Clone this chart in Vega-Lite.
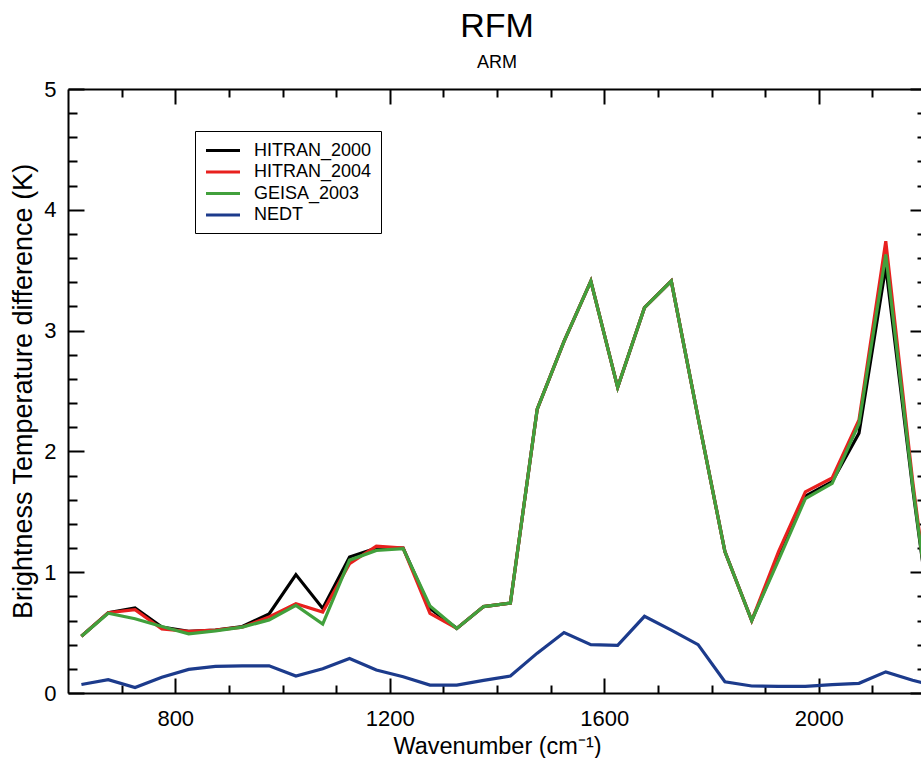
{
"$schema": "https://vega.github.io/schema/vega-lite/v6.json",
"width": 858, "height": 604,
"autosize": {"type": "none"},
"padding": {"left": 68, "top": 89, "right": 0, "bottom": 65},
"background": "white",
"config": {
  "font": "Liberation Sans",
  "view": {"stroke": null},
  "axis": {"grid": false, "domainColor": "black", "domainWidth": 2, "tickColor": "black", "tickWidth": 2, "labelColor": "black", "labelFont": "Liberation Sans", "titleFont": "Liberation Sans", "titleColor": "black", "titleFontWeight": "normal", "labelFontSize": 22, "titleFontSize": 22},
  "line": {"strokeWidth": 3.2}
},
"title": {"text": "RFM", "subtitle": "ARM", "fontSize": 34, "subtitleFontSize": 18, "font": "Liberation Sans", "subtitleFont": "Liberation Sans", "fontWeight": "normal", "color": "black", "subtitleColor": "black", "anchor": "middle", "offset": 6, "subtitlePadding": 10},
"data": {"values": [
{"wn":625,"HITRAN_2000":0.47,"HITRAN_2004":0.47,"GEISA_2003":0.47,"NEDT":0.07},
{"wn":675,"HITRAN_2000":0.665,"HITRAN_2004":0.665,"GEISA_2003":0.66,"NEDT":0.11},
{"wn":725,"HITRAN_2000":0.705,"HITRAN_2004":0.69,"GEISA_2003":0.615,"NEDT":0.045},
{"wn":775,"HITRAN_2000":0.545,"HITRAN_2004":0.53,"GEISA_2003":0.55,"NEDT":0.13},
{"wn":825,"HITRAN_2000":0.51,"HITRAN_2004":0.51,"GEISA_2003":0.49,"NEDT":0.195},
{"wn":875,"HITRAN_2000":0.52,"HITRAN_2004":0.52,"GEISA_2003":0.515,"NEDT":0.22},
{"wn":925,"HITRAN_2000":0.55,"HITRAN_2004":0.545,"GEISA_2003":0.545,"NEDT":0.225},
{"wn":975,"HITRAN_2000":0.655,"HITRAN_2004":0.63,"GEISA_2003":0.605,"NEDT":0.225},
{"wn":1025,"HITRAN_2000":0.98,"HITRAN_2004":0.74,"GEISA_2003":0.725,"NEDT":0.14},
{"wn":1075,"HITRAN_2000":0.70,"HITRAN_2004":0.67,"GEISA_2003":0.57,"NEDT":0.20},
{"wn":1125,"HITRAN_2000":1.125,"HITRAN_2004":1.07,"GEISA_2003":1.10,"NEDT":0.285},
{"wn":1175,"HITRAN_2000":1.20,"HITRAN_2004":1.215,"GEISA_2003":1.18,"NEDT":0.19},
{"wn":1225,"HITRAN_2000":1.20,"HITRAN_2004":1.20,"GEISA_2003":1.195,"NEDT":0.135},
{"wn":1275,"HITRAN_2000":0.70,"HITRAN_2004":0.66,"GEISA_2003":0.72,"NEDT":0.065},
{"wn":1325,"HITRAN_2000":0.535,"HITRAN_2004":0.535,"GEISA_2003":0.535,"NEDT":0.065},
{"wn":1375,"HITRAN_2000":0.715,"HITRAN_2004":0.715,"GEISA_2003":0.715,"NEDT":0.105},
{"wn":1425,"HITRAN_2000":0.745,"HITRAN_2004":0.745,"GEISA_2003":0.745,"NEDT":0.14},
{"wn":1475,"HITRAN_2000":2.35,"HITRAN_2004":2.35,"GEISA_2003":2.35,"NEDT":0.33},
{"wn":1525,"HITRAN_2000":2.91,"HITRAN_2004":2.91,"GEISA_2003":2.91,"NEDT":0.50},
{"wn":1575,"HITRAN_2000":3.41,"HITRAN_2004":3.41,"GEISA_2003":3.41,"NEDT":0.40},
{"wn":1625,"HITRAN_2000":2.53,"HITRAN_2004":2.53,"GEISA_2003":2.53,"NEDT":0.395},
{"wn":1675,"HITRAN_2000":3.19,"HITRAN_2004":3.19,"GEISA_2003":3.19,"NEDT":0.635},
{"wn":1725,"HITRAN_2000":3.41,"HITRAN_2004":3.41,"GEISA_2003":3.41,"NEDT":0.52},
{"wn":1775,"HITRAN_2000":2.28,"HITRAN_2004":2.28,"GEISA_2003":2.28,"NEDT":0.40},
{"wn":1825,"HITRAN_2000":1.17,"HITRAN_2004":1.17,"GEISA_2003":1.17,"NEDT":0.093},
{"wn":1875,"HITRAN_2000":0.60,"HITRAN_2004":0.60,"GEISA_2003":0.60,"NEDT":0.058},
{"wn":1925,"HITRAN_2000":1.12,"HITRAN_2004":1.17,"GEISA_2003":1.10,"NEDT":0.055},
{"wn":1975,"HITRAN_2000":1.63,"HITRAN_2004":1.665,"GEISA_2003":1.61,"NEDT":0.055},
{"wn":2025,"HITRAN_2000":1.75,"HITRAN_2004":1.78,"GEISA_2003":1.735,"NEDT":0.07},
{"wn":2075,"HITRAN_2000":2.15,"HITRAN_2004":2.26,"GEISA_2003":2.23,"NEDT":0.08},
{"wn":2125,"HITRAN_2000":3.53,"HITRAN_2004":3.74,"GEISA_2003":3.63,"NEDT":0.175},
{"wn":2175,"HITRAN_2000":1.70,"HITRAN_2004":1.76,"GEISA_2003":1.72,"NEDT":0.106},
{"wn":2225,"HITRAN_2000":0.05,"HITRAN_2004":0.05,"GEISA_2003":0.05,"NEDT":0.05}
]},
"layer": [
{
  "mark": {"type": "line", "clip": true},
  "encoding": {
    "x": {"field": "wn", "type": "quantitative", "scale": {"domain": [600, 2200], "nice": false, "zero": false},
      "axis": {"orient": "bottom", "values": [800, 1200, 1600, 2000], "tickSize": -15, "labelPadding": 30, "title": "Wavenumber (cm⁻¹)", "titleFontSize": 23.5, "titlePadding": 5, "format": "d"}},
    "y": {"field": "HITRAN_2000", "type": "quantitative", "scale": {"domain": [0, 5], "nice": false},
      "axis": {"orient": "left", "values": [0, 1, 2, 3, 4, 5], "tickSize": -16, "labelPadding": 28, "title": "Brightness Temperature difference (K)", "titleFontSize": 27, "titlePadding": 6, "format": "d"}},
    "color": {"datum": "HITRAN_2000", "type": "nominal",
      "scale": {"domain": ["HITRAN_2000", "HITRAN_2004", "GEISA_2003", "NEDT"], "range": ["#000000", "#e8201e", "#41a03c", "#1c3b8c"]},
      "legend": {"orient": "none", "legendX": 127, "legendY": 42, "title": null, "symbolType": "M-1,0H3", "symbolSize": 289, "symbolStrokeWidth": 3.5, "labelFontSize": 18, "labelOffset": 29, "padding": 9, "rowPadding": 1.5, "strokeColor": "black", "fillColor": "white", "labelFont": "Liberation Sans", "labelColor": "black",
        "encode": {"legend": {"update": {"strokeWidth": {"value": 1.5}}}}}}
  }
},
{
  "mark": {"type": "line", "clip": true},
  "encoding": {
    "x": {"field": "wn", "type": "quantitative",
      "axis": {"orient": "bottom", "values": [700, 900, 1000, 1100, 1300, 1400, 1500, 1700, 1800, 1900, 2100], "tickSize": -8, "labels": false, "domain": false, "title": null}},
    "y": {"field": "HITRAN_2004", "type": "quantitative",
      "axis": {"orient": "left", "values": [0.2, 0.4, 0.6, 0.8, 1.2, 1.4, 1.6, 1.8, 2.2, 2.4, 2.6, 2.8, 3.2, 3.4, 3.6, 3.8, 4.2, 4.4, 4.6, 4.8], "tickSize": -9, "labels": false, "domain": false, "title": null}},
    "color": {"datum": "HITRAN_2004", "type": "nominal"}
  }
},
{
  "mark": {"type": "line", "clip": true},
  "encoding": {
    "x": {"field": "wn", "type": "quantitative",
      "axis": {"orient": "top", "values": [800, 1200, 1600, 2000], "tickSize": -15, "labels": false, "title": null}},
    "y": {"field": "GEISA_2003", "type": "quantitative",
      "axis": {"orient": "right", "values": [0, 1, 2, 3, 4, 5], "tickSize": -16, "labels": false, "title": null}},
    "color": {"datum": "GEISA_2003", "type": "nominal"}
  }
},
{
  "mark": {"type": "line", "clip": true},
  "encoding": {
    "x": {"field": "wn", "type": "quantitative",
      "axis": {"orient": "top", "values": [700, 900, 1000, 1100, 1300, 1400, 1500, 1700, 1800, 1900, 2100], "tickSize": -8, "labels": false, "domain": false, "title": null}},
    "y": {"field": "NEDT", "type": "quantitative",
      "axis": {"orient": "right", "values": [0.2, 0.4, 0.6, 0.8, 1.2, 1.4, 1.6, 1.8, 2.2, 2.4, 2.6, 2.8, 3.2, 3.4, 3.6, 3.8, 4.2, 4.4, 4.6, 4.8], "tickSize": -9, "labels": false, "domain": false, "title": null}},
    "color": {"datum": "NEDT", "type": "nominal"}
  }
}
],
"resolve": {"axis": {"x": "independent", "y": "independent"}}
}
